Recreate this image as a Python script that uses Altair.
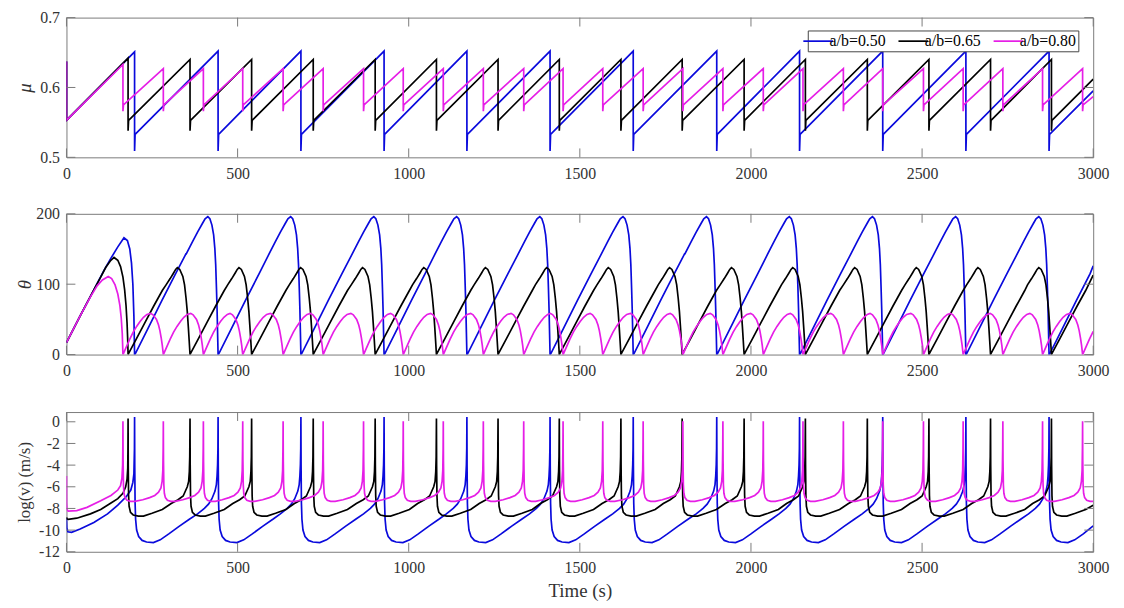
import altair as alt
import pandas as pd

T_END = 3000
SERIES = ["a/b=0.50", "a/b=0.65", "a/b=0.80"]
COLORS = ["#0A0ADC", "#000000", "#E61EE6"]
FONT = "Liberation Serif"

# ---- event (slip) times ---------------------------------------------------
blue_events = [199, 443, 685, 928, 1170, 1413, 1656, 1900, 2142, 2385, 2628, 2871]
black_events = [180, 361, 541, 721, 902, 1081, 1261, 1440, 1620, 1799, 1980,
                2159, 2340, 2520, 2700, 2878]
magenta_events = [165, 283, 400, 515, 633, 750, 868, 984, 1101, 1218, 1336, 1451,
                  1567, 1685, 1801, 1918, 2036, 2152, 2270, 2385, 2504, 2620,
                  2736, 2852, 2969]

# ---- friction coefficient mu ----------------------------------------------
blue_mu_first = [(0, 0.637), (0, 0.553), (199, 0.651)]
black_mu_first = [(0, 0.637), (0, 0.553), (180, 0.642)]
magenta_mu_first = [(0, 0.637), (0, 0.553), (165, 0.633)]
blue_mu_after = [(0, 0.509), (1.5, 0.533)]        # (s after event, value)
black_mu_after = [(0, 0.538), (1.5, 0.553)]
magenta_mu_after = [(0, 0.566), (1.5, 0.575)]
blue_mu_before = [(0, 0.652)]                      # (s before event, value)
black_mu_before = [(0, 0.640)]
magenta_mu_before = [(0, 0.627)]
mu_end = [0.595, 0.612, 0.587]

# ---- state variable theta -------------------------------------------------
blue_th_first = [(0, 17), (40, 55), (80, 92), (110, 120), (130, 137), (150, 153),
                 (168, 166), (178, 162), (185, 150), (190, 130), (194, 100),
                 (197, 55), (199, 0)]
black_th_first = [(0, 17), (40, 55), (80, 92), (100, 110), (115, 124), (128, 133),
                  (139, 138), (150, 134), (158, 125), (165, 110), (170, 92),
                  (174, 70), (177, 45), (179, 20), (180, 0)]
magenta_th_first = [(0, 17), (40, 55), (70, 82), (90, 98), (105, 106), (122, 111),
                    (132, 108), (142, 99), (150, 86), (156, 70), (160, 52),
                    (163, 30), (165, 0)]
blue_th_after = [(0, 0), (2, 1), (40, 38), (80, 77), (120, 115), (150, 143)]
blue_th_before = [(93, 143), (75, 160), (60, 174), (45, 187), (38, 193), (30, 196),
                  (24, 193), (18, 184), (13, 170), (9.5, 151), (7, 128),
                  (4.8, 95), (3, 65), (1.5, 32), (0, 0)]
black_th_after = [(0, 0), (2, 2), (25, 23), (50, 46), (75, 69), (100, 91)]
black_th_before = [(70, 99), (58, 108), (48, 116), (42, 121), (37, 123.5),
                   (30, 121), (21, 111), (16, 99), (11.6, 80), (8, 61),
                   (4.8, 38), (2.5, 20), (0, 0)]
magenta_th_after = [(0, 0), (2, 2), (10, 11), (20, 22), (30, 32), (40, 40),
                    (50, 47), (60, 53), (70, 57)]
magenta_th_before = [(37, 58.5), (30, 56.5), (20, 50), (14, 42), (10, 34),
                     (6, 23), (3, 13), (0, 0)]
th_end = [126, 113, 33]

# ---- log slip velocity ----------------------------------------------------
blue_lv_first = [(0, -8.9), (1, -9.8), (4, -10.15), (15, -10.2), (40, -9.9),
                 (80, -9.3), (120, -8.5), (150, -7.7), (175, -6.9), (188, -6.3),
                 (194, -5.6), (197, -4.8), (198.6, -2.5), (199, 0.45)]
black_lv_first = [(0, -8.8), (1, -8.95), (5, -9.0), (30, -8.9), (70, -8.5),
                  (100, -8.1), (130, -7.5), (150, -7.1), (165, -6.6), (173, -6.0),
                  (177, -5.3), (179, -4.3), (179.6, -2.5), (180, 0.3)]
magenta_lv_first = [(0, -5.0), (0.3, -7.5), (1.5, -8.1), (5, -8.25), (30, -8.2),
                    (60, -7.9), (100, -7.3), (130, -6.8), (150, -6.3), (158, -5.9),
                    (162, -5.2), (164, -4.0), (164.6, -2.5), (165, 0.05)]
blue_lv_after = [(0, 0.45), (0.5, -4.0), (1.5, -7.5), (3, -9.0), (6, -10.0),
                 (12, -10.6), (22, -10.95), (35, -11.1), (55, -11.15), (75, -10.9),
                 (100, -10.35), (130, -9.65), (160, -9.0)]
blue_lv_before = [(60, -8.5), (40, -8.0), (28, -7.6), (18, -7.1), (9, -6.4),
                  (5, -5.8), (3, -5.0), (1.5, -4.0), (0.5, -2.5), (0, 0.45)]
black_lv_after = [(0, 0.3), (0.5, -4.0), (1.5, -6.8), (3, -7.8), (7, -8.35),
                  (15, -8.6), (30, -8.7), (45, -8.7), (70, -8.45), (100, -8.1)]
black_lv_before = [(55, -7.55), (35, -7.2), (20, -6.85), (8, -6.0), (4, -5.5),
                   (2, -4.6), (0.8, -3.2), (0, 0.3)]
magenta_lv_after = [(0, 0.05), (0.5, -3.5), (1.5, -5.8), (3, -6.6), (6, -7.0),
                    (12, -7.25), (22, -7.35), (35, -7.35)]
magenta_lv_before = [(60, -7.2), (40, -7.0), (25, -6.8), (14, -6.5), (7, -6.1),
                     (3.5, -5.5), (1.5, -4.5), (0.5, -2.5), (0, 0.05)]
lv_end = [-9.6, -7.7, -7.35]

# ---- axes ------------------------------------------------------------------
x_ticks = [0, 500, 1000, 1500, 2000, 2500, 3000]
mu_ticks = [0.5, 0.6, 0.7]
th_ticks = [0, 100, 200]
lv_ticks = [0, -2, -4, -6, -8, -10, -12]


def build(events, first, after, before, end_val):
    pts = list(first)
    b_max = max(b for b, _ in before)
    for k, e in enumerate(events):
        if k + 1 < len(events):
            nxt = events[k + 1]
            span = nxt - e
            pts += [(e + a, v) for a, v in after if a < span - b_max]
            pts += [(nxt - b, v) for b, v in sorted(before, key=lambda p: -p[0])]
        else:
            span = T_END - e
            pts += [(e + a, v) for a, v in after if a < span]
            pts.append((T_END, end_val))
    return pts


def frame(series_pts):
    rows = []
    for name, pts in zip(SERIES, series_pts):
        for i, (t, v) in enumerate(pts):
            rows.append({"t": t, "v": v, "series": name, "i": i})
    return pd.DataFrame(rows)


events = [blue_events, black_events, magenta_events]
mu_df = frame([
    build(events[0], blue_mu_first, blue_mu_after, blue_mu_before, mu_end[0]),
    build(events[1], black_mu_first, black_mu_after, black_mu_before, mu_end[1]),
    build(events[2], magenta_mu_first, magenta_mu_after, magenta_mu_before, mu_end[2]),
])
th_df = frame([
    build(events[0], blue_th_first, blue_th_after, blue_th_before, th_end[0]),
    build(events[1], black_th_first, black_th_after, black_th_before, th_end[1]),
    build(events[2], magenta_th_first, magenta_th_after, magenta_th_before, th_end[2]),
])
lv_df = frame([
    build(events[0], blue_lv_first, blue_lv_after, blue_lv_before, lv_end[0]),
    build(events[1], black_lv_first, black_lv_after, black_lv_before, lv_end[1]),
    build(events[2], magenta_lv_first, magenta_lv_after, magenta_lv_before, lv_end[2]),
])

W = 1036
TEXT = "#333333"
FRAME = "#7a7a7a"
TICK_LEN = 9


def panel(df, ydom, yticks, ytitle, h, italic, legend=False, xtitle=None):
    xs = alt.Scale(domain=[0, T_END], nice=False, zero=False)
    ys = alt.Scale(domain=ydom, nice=False, zero=False)
    xaxis = alt.Axis(values=x_ticks, ticks=False, tickSize=0, domain=False, grid=False,
                     labelPadding=8, labelFontSize=16, labelFont=FONT, labelColor=TEXT,
                     labelFlush=False, labelExpr="datum.value + ''",
                     title=xtitle if xtitle else None, titleFont=FONT, titleFontSize=19,
                     titleFontWeight="normal", titleColor=TEXT, titlePadding=6)
    yaxis = alt.Axis(values=yticks, ticks=False, tickSize=0, domain=False, grid=False,
                     labelPadding=7, labelFontSize=16, labelFont=FONT, labelColor=TEXT,
                     labelFlush=False, labelExpr="datum.value + ''",
                     title=ytitle, titleFont=FONT, titleFontSize=19 if italic else 17,
                     titleFontStyle="italic" if italic else "normal",
                     titleFontWeight="normal", titleColor=TEXT, titleAngle=270,
                     titleX=-42, titleY=h / 2, titleAlign="center",
                     titleBaseline="middle")
    if legend:
        leg = alt.Legend(orient="none", legendX=748, legendY=13, direction="horizontal",
                         columns=3, title=None, symbolType="M-2,0H2", symbolSize=225,
                         symbolStrokeWidth=1.7, labelFont=FONT, labelFontSize=16,
                         labelColor="#000000", fillColor="white", strokeColor="#444444",
                         padding=2, columnPadding=9, labelOffset=3)
    else:
        leg = None
    color = alt.Color("series:N", scale=alt.Scale(domain=SERIES, range=COLORS),
                      legend=leg)
    X = alt.X("t:Q", scale=xs, axis=xaxis)
    Y = alt.Y("v:Q", scale=ys, axis=yaxis)
    layers = []
    for k, name in enumerate(SERIES):
        layers.append(
            alt.Chart(df).transform_filter(alt.datum.series == name)
            .mark_line(strokeWidth=1.7, clip=True)
            .encode(x=X, y=Y, color=color, order="i:Q")
        )
    xt = pd.DataFrame({"t": x_ticks})
    yt = pd.DataFrame({"v": yticks})
    tick_col = FRAME
    layers.append(alt.Chart(xt).mark_rule(color=tick_col, strokeWidth=1).encode(
        x=X, y=alt.value(h), y2=alt.value(h - TICK_LEN)))
    layers.append(alt.Chart(xt).mark_rule(color=tick_col, strokeWidth=1).encode(
        x=X, y=alt.value(0), y2=alt.value(TICK_LEN)))
    layers.append(alt.Chart(yt).mark_rule(color=tick_col, strokeWidth=1).encode(
        y=Y, x=alt.value(0), x2=alt.value(TICK_LEN)))
    layers.append(alt.Chart(yt).mark_rule(color=tick_col, strokeWidth=1).encode(
        y=Y, x=alt.value(W - TICK_LEN), x2=alt.value(W)))
    return alt.layer(*layers).properties(width=W, height=h)


top = panel(mu_df, [0.5, 0.7], mu_ticks, "μ", 141, True, legend=True)
mid = panel(th_df, [0, 200], th_ticks, "θ", 142, True)
bot = panel(lv_df, [-12, 0.9], lv_ticks, "log(v)  (m/s)", 141, False, xtitle="Time (s)")

lower = alt.vconcat(mid, bot, spacing=32).resolve_scale(color="independent")
chart = (
    alt.vconcat(top, lower, spacing=23)
    .resolve_scale(color="independent")
    .configure(style={"guide-label": {"font": FONT, "fontSize": 16, "fill": TEXT},
                      "guide-title": {"font": FONT}})
    .configure_view(stroke=FRAME, strokeWidth=1)
    .configure_axis(labelFont=FONT, titleFont=FONT, labelFontSize=16,
                    labelColor=TEXT, titleColor=TEXT, labelFlush=False)
    .configure_legend(labelFont=FONT, labelFontSize=16)
    .properties(padding={"left": 7, "top": -2, "right": 6, "bottom": 0},
                background="white")
)

chart.save("out.html", embed_options={"renderer": "svg", "actions": False})
